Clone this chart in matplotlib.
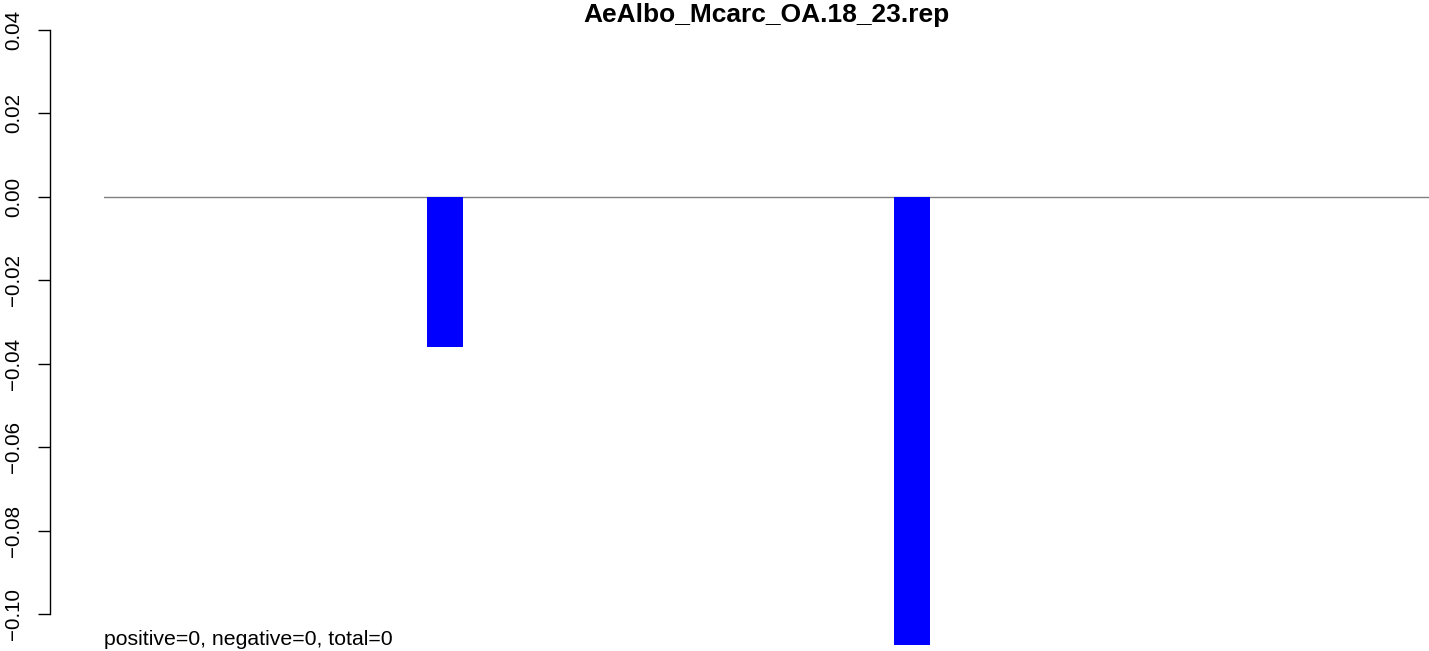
import numpy as np
import matplotlib
matplotlib.use("Agg")
import matplotlib.pyplot as plt

plt.rcParams['font.family'] = ['Liberation Sans', 'DejaVu Sans']

# data
title = 'AeAlbo_Mcarc_OA.18_23.rep'
bar_index = [8, 19]
bar_value = [-0.0359, -0.1074]
yticks = [-0.10, -0.08, -0.06, -0.04, -0.02, 0.00, 0.02, 0.04]
ytick_labels = ['\u22120.10', '\u22120.08', '\u22120.06', '\u22120.04', '\u22120.02', '0.00', '0.02', '0.04']
note = 'positive=0, negative=0, total=0'

W, H = 1429, 651
fig = plt.figure(figsize=(W / 100, H / 100), dpi=100)

# plot region from x=104px to right edge, full height
ax = fig.add_axes([104 / W, 0, 1325 / W, 1])
ax.set_xlim(-0.033, 1325 / 42.45 - 0.033)
ax.set_ylim(-0.10887, 0.04719)

ax.bar(bar_index, bar_value, width=0.86, color='#0000ff', zorder=2, clip_on=False)
ax.axhline(0, color='#808080', lw=1.0, zorder=1)

for s in ['top', 'right', 'bottom']:
    ax.spines[s].set_visible(False)
ax.spines['left'].set_position(('outward', 54 * 0.72))
ax.spines['left'].set_bounds(-0.10, 0.04)
ax.spines['left'].set_linewidth(1.0)

ax.set_xticks([])
ax.set_yticks(yticks)
ax.set_yticklabels(ytick_labels, rotation=90, va='center')
ax.tick_params(axis='y', length=12 * 0.72, width=1.0, pad=10.5, labelsize=14.8)

fig.text(766.5 / W, 1 - 22 / H, title, ha='center', va='baseline',
         fontsize=19, fontweight='bold')
fig.text(104 / W, 1 - 645 / H, note, ha='left', va='baseline', fontsize=15.3)

fig.savefig('out.png', dpi=100)
